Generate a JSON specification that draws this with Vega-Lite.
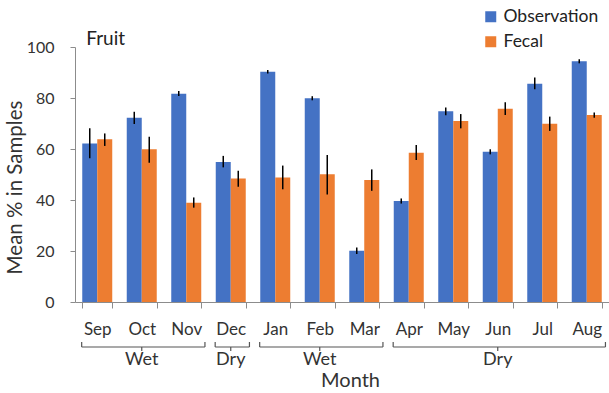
{
  "$schema": "https://vega.github.io/schema/vega-lite/v6.json",
  "autosize": {"type": "pad"},
  "padding": {"left": 5, "top": 8, "right": 0, "bottom": 0},
  "background": "white",
  "config": {
    "font": "Lato",
    "view": {"stroke": null},
    "axis": {"labelFont": "Lato", "titleFont": "Lato", "labelColor": "#333333", "titleColor": "#333333", "domainColor": "#8c8c8c", "tickColor": "#8c8c8c", "grid": false, "titleFontWeight": "normal"},
    "concat": {"spacing": 3}
  },
  "spacing": 3,
  "datasets": {
    "bars": [
      {"month": "Sep", "series": "Observation", "value": 62.2, "low": 56.4, "high": 68.1},
      {"month": "Sep", "series": "Fecal", "value": 63.8, "low": 61.2, "high": 66.1},
      {"month": "Oct", "series": "Observation", "value": 72.3, "low": 69.8, "high": 74.6},
      {"month": "Oct", "series": "Fecal", "value": 59.9, "low": 54.6, "high": 64.8},
      {"month": "Nov", "series": "Observation", "value": 81.7, "low": 80.8, "high": 82.7},
      {"month": "Nov", "series": "Fecal", "value": 38.9, "low": 37.0, "high": 41.0},
      {"month": "Dec", "series": "Observation", "value": 54.9, "low": 52.8, "high": 57.3},
      {"month": "Dec", "series": "Fecal", "value": 48.4, "low": 45.2, "high": 51.5},
      {"month": "Jan", "series": "Observation", "value": 90.3, "low": 89.6, "high": 91.0},
      {"month": "Jan", "series": "Fecal", "value": 48.8, "low": 44.2, "high": 53.5},
      {"month": "Feb", "series": "Observation", "value": 79.9, "low": 79.1, "high": 80.7},
      {"month": "Feb", "series": "Fecal", "value": 50.1, "low": 42.2, "high": 57.6},
      {"month": "Mar", "series": "Observation", "value": 20.1, "low": 18.8, "high": 21.4},
      {"month": "Mar", "series": "Fecal", "value": 47.8, "low": 43.6, "high": 52.0},
      {"month": "Apr", "series": "Observation", "value": 39.6, "low": 38.6, "high": 40.6},
      {"month": "Apr", "series": "Fecal", "value": 58.5, "low": 55.7, "high": 61.6},
      {"month": "May", "series": "Observation", "value": 74.8, "low": 73.2, "high": 76.3},
      {"month": "May", "series": "Fecal", "value": 71.0, "low": 68.1, "high": 73.7},
      {"month": "Jun", "series": "Observation", "value": 58.9, "low": 57.9, "high": 59.9},
      {"month": "Jun", "series": "Fecal", "value": 75.8, "low": 73.3, "high": 78.3},
      {"month": "Jul", "series": "Observation", "value": 85.6, "low": 83.4, "high": 88.0},
      {"month": "Jul", "series": "Fecal", "value": 69.9, "low": 67.1, "high": 72.7},
      {"month": "Aug", "series": "Observation", "value": 94.4, "low": 93.6, "high": 95.2},
      {"month": "Aug", "series": "Fecal", "value": 73.3, "low": 72.3, "high": 74.3}
    ],
    "groups": [
      {"season": "Wet", "start": "Sep", "end": "Nov", "mid": "Oct"},
      {"season": "Dry", "start": "Dec", "end": "Dec", "mid": "Dec"},
      {"season": "Wet", "start": "Jan", "end": "Mar", "mid": "Feb"},
      {"season": "Dry", "start": "Apr", "end": "Aug", "mid": "Jun"}
    ],
    "panel": [{"label": "Fruit"}]
  },
  "resolve": {"scale": {"x": "independent", "y": "independent"}, "legend": {"color": "independent"}},
  "vconcat": [
    {
      "width": 534,
      "height": 255,
      "layer": [
        {
          "data": {"name": "bars"},
          "mark": {"type": "bar"},
          "encoding": {
            "x": {"field": "month", "type": "nominal",
              "scale": {"domain": ["Sep","Oct","Nov","Dec","Jan","Feb","Mar","Apr","May","Jun","Jul","Aug"], "paddingInner": 0.326, "paddingOuter": 0.163},
              "axis": {"title": null, "labelAngle": 0, "labelFontSize": 17, "tickBand": "extent", "tickSize": 6, "labelPadding": 13, "labelColor": "#333333"}},
            "xOffset": {"field": "series", "type": "nominal", "scale": {"domain": ["Observation","Fecal"], "paddingInner": 0, "paddingOuter": 0}},
            "y": {"field": "value", "type": "quantitative",
              "scale": {"domain": [0, 100]},
              "axis": {"title": "Mean % in Samples", "values": [0,20,40,60,80,100], "labelFontSize": 16, "tickSize": 5, "labelPadding": 16, "titleFontSize": 20.5, "titlePadding": 1, "titleY": 140}},
            "color": {"field": "series", "type": "nominal",
              "scale": {"domain": ["Observation","Fecal"], "range": ["#4472C4","#ED7D31"]},
              "legend": {"title": null, "orient": "none", "legendX": 407, "legendY": -39, "symbolType": "square", "symbolSize": 121, "symbolStrokeWidth": 0, "labelFontSize": 17.5, "labelFont": "Lato", "labelColor": "#222222", "rowPadding": 6, "labelOffset": 4, "padding": 0}}
          }
        },
        {
          "data": {"name": "bars"},
          "mark": {"type": "rule", "color": "black", "strokeWidth": 1.5},
          "encoding": {
            "x": {"field": "month", "type": "nominal"},
            "xOffset": {"field": "series", "type": "nominal"},
            "y": {"field": "low", "type": "quantitative"},
            "y2": {"field": "high"}
          }
        },
        {
          "data": {"name": "panel"},
          "mark": {"type": "text", "align": "left", "baseline": "alphabetic", "fontSize": 19, "font": "Lato", "color": "#222222", "dx": 4, "dy": -2},
          "encoding": {
            "x": {"datum": "Sep", "type": "nominal", "bandPosition": 0},
            "y": {"datum": 100, "type": "quantitative"},
            "text": {"field": "label"}
          }
        }
      ]
    },
    {
      "width": 534,
      "height": 30,
      "data": {"name": "groups"},
      "encoding": {
        "x": {"type": "nominal", "scale": {"domain": ["Sep","Oct","Nov","Dec","Jan","Feb","Mar","Apr","May","Jun","Jul","Aug"], "paddingInner": 0, "paddingOuter": 0},
          "axis": {"title": "Month", "labels": false, "ticks": false, "domain": false, "titleFontSize": 20, "titlePadding": 0, "titleX": 275}}
      },
      "layer": [
        {
          "mark": {"type": "rule", "color": "#555555", "strokeWidth": 1.2},
          "encoding": {
            "x": {"field": "start", "type": "nominal", "bandPosition": 0.15},
            "x2": {"field": "end", "bandPosition": 0.92},
            "y": {"datum": 23, "type": "quantitative", "scale": {"domain": [0, 30]}, "axis": null}
          }
        },
        {
          "mark": {"type": "rule", "color": "#555555", "strokeWidth": 1.2},
          "encoding": {
            "x": {"field": "start", "type": "nominal", "bandPosition": 0.15},
            "y": {"datum": 23, "type": "quantitative"},
            "y2": {"datum": 28}
          }
        },
        {
          "mark": {"type": "rule", "color": "#555555", "strokeWidth": 1.2},
          "encoding": {
            "x": {"field": "end", "type": "nominal", "bandPosition": 0.92},
            "y": {"datum": 23, "type": "quantitative"},
            "y2": {"datum": 28}
          }
        },
        {
          "mark": {"type": "rule", "color": "#555555", "strokeWidth": 1.2},
          "encoding": {
            "x": {"field": "mid", "type": "nominal", "bandPosition": 0.5},
            "y": {"datum": 19, "type": "quantitative"},
            "y2": {"datum": 23}
          }
        },
        {
          "mark": {"type": "text", "fontSize": 18, "font": "Lato", "color": "#333333", "baseline": "alphabetic"},
          "encoding": {
            "x": {"field": "mid", "type": "nominal", "bandPosition": 0.5},
            "y": {"datum": 5, "type": "quantitative"},
            "text": {"field": "season"}
          }
        }
      ]
    }
  ]
}
